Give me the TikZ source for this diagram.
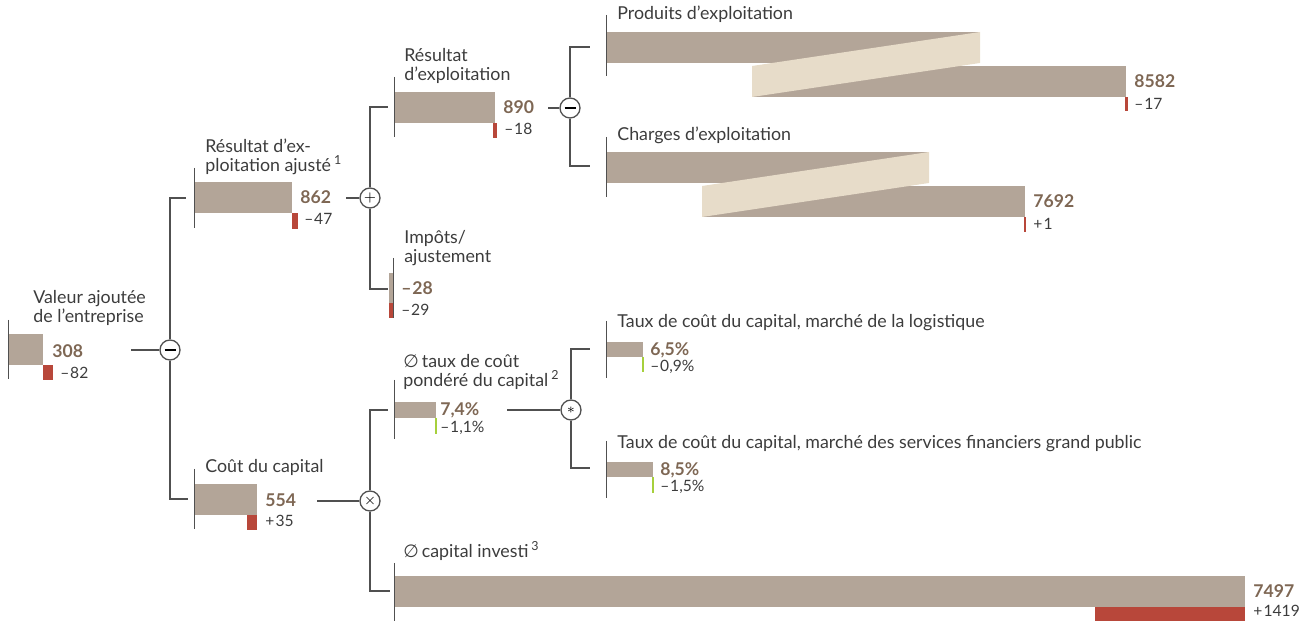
\documentclass[tikz,border=0pt]{standalone}
\usepackage{fontspec}
\setmainfont{Lato}
\newfontfamily\symfont{DejaVu Sans}
\usetikzlibrary{positioning}
\definecolor{bartan}{HTML}{B3A598}
\definecolor{barlight}{HTML}{E7DCC9}
\definecolor{barred}{HTML}{B8473A}
\definecolor{numbrown}{HTML}{7E6754}
\definecolor{txtgrey}{HTML}{3C3C3C}
\definecolor{linegrey}{HTML}{505050}
\definecolor{rategreen}{HTML}{A6D03C}
\newcommand{\avg}{{\symfont\char"2205}\,}
\newcommand{\mns}{–\kern0.4pt}
\newcommand{\pls}{+\kern0.6pt}

\begin{document}
\begin{tikzpicture}[x=0.5pt, y=-0.5pt,
	lbl/.style={anchor=base west, inner sep=0pt, text=txtgrey, align=left, font=\fontsize{8.9}{9.6}\selectfont},
	val/.style={anchor=base west, inner sep=0pt, text=numbrown, font=\fontsize{8.8}{9.6}\selectfont\bfseries},
	dlt/.style={anchor=base west, inner sep=0pt, text=txtgrey, font=\fontsize{7.8}{9}\selectfont},
	opnode/.style={circle, draw=linegrey, fill=white, line width=0.65pt, minimum size=10pt, inner sep=0pt, font=\fontsize{7.5}{7.5}\selectfont},
	link/.style={draw=linegrey, line width=0.6pt},
	axis/.style={draw=linegrey, line width=0.5pt}]
	\useasboundingbox (0,0) rectangle (1308,624);

	% Valeur ajoutee
	\fill[bartan] (8,334) rectangle (43,365);
	\fill[barred] (43,365) rectangle (53,380);
	\draw[axis] (8,320) -- (8,379);
	\node[lbl] (valLbl) at (33,323) {Valeur ajoutée\\de l’entreprise};
	\node[val] (valNum) at (52,358) {308};
	\node[dlt] (valDlt) at (60,379) {\mns82};

	% Resultat d'exploitation ajuste
	\fill[bartan] (194,182) rectangle (292,213);
	\fill[barred] (292,213) rectangle (298,229);
	\draw[axis] (194,168) -- (194,228);
	\node[lbl] (ajuLbl) at (205,172) {Résultat d’ex-\\ploitation ajusté\,\textsuperscript{1}};
	\node[val] (ajuNum) at (300,204) {862};
	\node[dlt] (ajuDlt) at (304,225) {\mns47};

	% Cout du capital
	\fill[bartan] (194,484) rectangle (257,515);
	\fill[barred] (247,515) rectangle (257,530);
	\draw[axis] (194,469) -- (194,529);
	\node[lbl] (coutLbl) at (205,473) {Coût du capital};
	\node[val] (coutNum) at (265,507) {554};
	\node[dlt] (coutDlt) at (265,527) {\pls35};

	% Resultat d'exploitation
	\fill[bartan] (394,92) rectangle (495,123);
	\fill[barred] (493,123) rectangle (497,138);
	\draw[axis] (394,77) -- (394,137);
	\node[lbl] (resLbl) at (404,81) {Résultat\\d’exploitation};
	\node[val] (resNum) at (503,114) {890};
	\node[dlt] (resDlt) at (504,135) {\mns18};

	% Impots / ajustement
	\fill[bartan] (389,273) rectangle (393,303);
	\fill[barred] (389,303) rectangle (393,318);
	\draw[axis] (393,258) -- (393,318);
	\node[lbl] (impLbl) at (404,263) {Impôts/\\ajustement};
	\node[val] (impNum) at (401,295) {\mns28};
	\node[dlt] (impDlt) at (401,316) {\mns29};

	% Produits d'exploitation
	\fill[bartan] (606,32) rectangle (980,63);
	\fill[bartan] (752,66) rectangle (1126,97);
	\fill[barlight] (752,66) -- (980,32) -- (980,63) -- (752,97) -- cycle;
	\fill[barred] (1125,97) rectangle (1128,111);
	\draw[axis] (606,15) -- (606,76);
	\node[lbl] (prodLbl) at (617,20) {Produits d’exploitation};
	\node[val] (prodNum) at (1134,88) {8582};
	\node[dlt] (prodDlt) at (1134,110) {\mns17};

	% Charges d'exploitation
	\fill[bartan] (606,152) rectangle (929,183);
	\fill[bartan] (702,186) rectangle (1025,217);
	\fill[barlight] (702,186) -- (929,152) -- (929,183) -- (702,217) -- cycle;
	\fill[barred] (1024,217) rectangle (1026,232);
	\draw[axis] (606,137) -- (606,197);
	\node[lbl] (chaLbl) at (617,141) {Charges d’exploitation};
	\node[val] (chaNum) at (1033,208) {7692};
	\node[dlt] (chaDlt) at (1033,230) {\pls1};

	% taux de cout pondere
	\fill[bartan] (394,402) rectangle (436,418);
	\draw[rategreen, line width=0.7pt] (436,418) -- (436,434);
	\draw[axis] (394,380) -- (394,439);
	\node[lbl] (wacLbl) at (403,387) {\avg taux de coût\\pondéré du capital\,\textsuperscript{2}};
	\node[val] (wacNum) at (440,416) {7,4\%};
	\node[dlt] (wacDlt) at (440,433) {\mns1,1\%};

	% taux logistique
	\fill[bartan] (606,342) rectangle (643,357);
	\draw[rategreen, line width=0.7pt] (643,357) -- (643,372);
	\draw[axis] (606,321) -- (606,378);
	\node[lbl] (logLbl) at (617,328) {Taux de coût du capital, marché de la logistique};
	\node[val] (logNum) at (650,356) {6,5\%};
	\node[dlt] (logDlt) at (650,372) {\mns0,9\%};

	% taux services financiers
	\fill[bartan] (606,462) rectangle (653,477);
	\draw[rategreen, line width=0.7pt] (653,477) -- (653,493);
	\draw[axis] (606,441) -- (606,498);
	\node[lbl] (finLbl) at (617,449) {Taux de coût du capital, marché des services financiers grand public};
	\node[val] (finNum) at (660,476) {8,5\%};
	\node[dlt] (finDlt) at (660,492) {\mns1,5\%};

	% capital investi
	\fill[bartan] (394,576) rectangle (1245,607);
	\fill[barred] (1095,607) rectangle (1245,621);
	\draw[axis] (394,563) -- (394,621);
	\node[lbl] (capLbl) at (403,558) {\avg capital investi\,\textsuperscript{3}};
	\node[val] (capNum) at (1253,598) {7497};
	\node[dlt] (capDlt) at (1253,617) {\pls1419};

	% operators
	\node[opnode] (opVal) at (170,350) {\rule{5.5pt}{1.2pt}};
	\node[opnode] (opAju) at (370,198) {$+$};
	\node[opnode] (opRes) at (570,108) {\rule{5.5pt}{1.2pt}};
	\node[opnode] (opCout) at (370,501) {$\times$};
	\node[opnode] (opWac) at (571,410) {$\ast$};

	% tree links
	\coordinate (valOut) at (131,350);
	\coordinate (ajuOut) at (346,198);
	\coordinate (resOut) at (548,108);
	\coordinate (coutOut) at (317,501);
	\coordinate (wacOut) at (507,410);
	\coordinate (ajuIn) at (186,198);
	\coordinate (coutIn) at (188,499);
	\coordinate (resIn) at (388,107);
	\coordinate (impIn) at (388,289);
	\coordinate (wacIn) at (388,410);
	\coordinate (capIn) at (390,591);
	\coordinate (prodIn) at (590,47);
	\coordinate (chaIn) at (590,166);
	\coordinate (logIn) at (590,349);
	\coordinate (finIn) at (590,468);

	\draw[link] (valOut) -- (opVal);
	\draw[link] (opVal) |- (ajuIn);
	\draw[link] (opVal) |- (coutIn);
	\draw[link] (ajuOut) -- (opAju);
	\draw[link] (opAju) |- (resIn);
	\draw[link] (opAju) |- (impIn);
	\draw[link] (resOut) -- (opRes);
	\draw[link] (opRes) |- (prodIn);
	\draw[link] (opRes) |- (chaIn);
	\draw[link] (coutOut) -- (opCout);
	\draw[link] (opCout) |- (wacIn);
	\draw[link] (opCout) |- (capIn);
	\draw[link] (wacOut) -- (opWac);
	\draw[link] (opWac) |- (logIn);
	\draw[link] (opWac) |- (finIn);
\end{tikzpicture}
\end{document}
